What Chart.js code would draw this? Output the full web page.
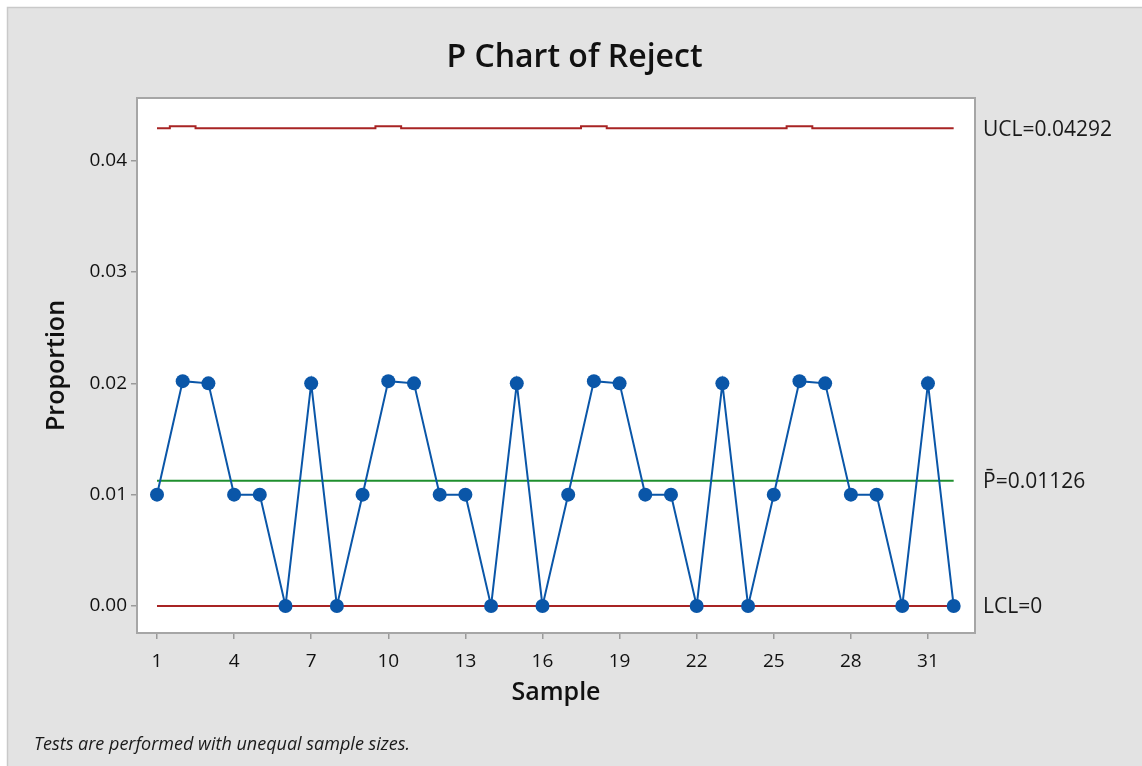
<!DOCTYPE html>
<html>
<head>
<meta charset="utf-8">
<script src="https://cdn.jsdelivr.net/npm/chart.js@4/dist/chart.umd.min.js"></script>
<style>
html,body{margin:0;padding:0;background:#ffffff;overflow:hidden;}
canvas{display:block;}
</style>
</head>
<body>
<canvas id="c" width="1142" height="766"></canvas>
<script>
// ---- data ----
const samples = [1,2,3,4,5,6,7,8,9,10,11,12,13,14,15,16,17,18,19,20,21,22,23,24,25,26,27,28,29,30,31,32];
const proportions = [0.01,0.0202,0.02,0.01,0.01,0,0.02,0,0.01,0.0202,0.02,0.01,0.01,0,0.02,0,0.01,0.0202,0.02,0.01,0.01,0,0.02,0,0.01,0.0202,0.02,0.01,0.01,0,0.02,0];
const uclValues = [0.04292,0.0431,0.04292,0.04292,0.04292,0.04292,0.04292,0.04292,0.04292,0.0431,0.04292,0.04292,0.04292,0.04292,0.04292,0.04292,0.04292,0.0431,0.04292,0.04292,0.04292,0.04292,0.04292,0.04292,0.04292,0.0431,0.04292,0.04292,0.04292,0.04292,0.04292,0.04292];
const centerLine = 0.01126;
const lcl = 0;
const xTicks = [1,4,7,10,13,16,19,22,25,28,31];
const yTicks = [0,0.01,0.02,0.03,0.04];
const titleText = "P Chart of Reject";
const xTitle = "Sample";
const yTitle = "Proportion";
const footerText = "Tests are performed with unequal sample sizes.";
const uclLabel = "UCL=0.04292";
const clLabel = "P\u0304=0.01126";
const lclLabel = "LCL=0";

const FONT = "'Open Sans', 'Noto Sans', sans-serif";
const pts = (ys) => samples.map((s, i) => ({x: s, y: ys[i]}));
const constPts = (v) => [{x: samples[0], y: v}, {x: samples[samples.length - 1], y: v}];

const bgPlugin = {
  id: 'bg',
  beforeDraw(chart) {
    const ctx = chart.ctx, a = chart.chartArea;
    ctx.save();
    ctx.fillStyle = '#ffffff';
    ctx.fillRect(0, 0, chart.width, chart.height);
    ctx.fillStyle = '#e3e3e3';
    ctx.fillRect(7, 7, chart.width - 7, chart.height - 7);
    ctx.strokeStyle = '#c9c9c9';
    ctx.lineWidth = 1.5;
    ctx.beginPath();
    ctx.moveTo(7.5, chart.height); ctx.lineTo(7.5, 7.5); ctx.lineTo(chart.width, 7.5);
    ctx.stroke();
    ctx.fillStyle = '#ffffff';
    ctx.fillRect(a.left, a.top, a.right - a.left, a.bottom - a.top);
    ctx.restore();
  },
  afterDraw(chart) {
    const ctx = chart.ctx, a = chart.chartArea, y = chart.scales.y;
    ctx.save();
    ctx.strokeStyle = '#a6a6a6';
    ctx.lineWidth = 2;
    ctx.strokeRect(a.left, a.top, a.right - a.left, a.bottom - a.top);
    ctx.fillStyle = '#1a1a1a';
    ctx.font = "21px " + FONT;
    ctx.textAlign = 'left';
    ctx.textBaseline = 'middle';
    const lx = a.right + 8;
    ctx.fillText(uclLabel, lx, y.getPixelForValue(uclValues[0]) + 2);
    ctx.fillText(clLabel, lx, y.getPixelForValue(centerLine) + 1);
    ctx.fillText(lclLabel, lx, y.getPixelForValue(lcl) + 1);
    ctx.font = "italic 18px " + FONT;
    ctx.fillText(footerText, 34, 745);
    ctx.restore();
  }
};

new Chart(document.getElementById('c'), {
  type: 'line',
  data: {
    datasets: [
      {
        label: 'Proportion', data: pts(proportions),
        borderColor: '#0a56a8', backgroundColor: '#0a56a8', borderWidth: 2,
        pointRadius: 7, pointHoverRadius: 7, pointBorderWidth: 0, tension: 0
      },
      {
        label: 'UCL', data: pts(uclValues), stepped: 'middle',
        borderColor: '#a82424', borderWidth: 2, pointRadius: 0
      },
      {
        label: 'CL', data: constPts(centerLine),
        borderColor: '#1f8f2e', borderWidth: 2, pointRadius: 0
      },
      {
        label: 'LCL', data: constPts(lcl),
        borderColor: '#a82424', borderWidth: 2, pointRadius: 0
      }
    ]
  },
  options: {
    responsive: false,
    animation: false,
    events: [],
    layout: {padding: {left: 7, top: 7, right: 0, bottom: 0}},
    plugins: {
      legend: {display: false},
      tooltip: {enabled: false},
      title: {
        display: true, text: titleText, color: '#111111',
        font: {family: FONT, size: 32, weight: '600', lineHeight: 1.2},
        padding: {top: 32, bottom: 20.6}
      }
    },
    scales: {
      x: {
        type: 'linear', position: 'bottom', min: 0.222, max: 32.83,
        afterBuildTicks(s) { s.ticks = xTicks.map(v => ({value: v})); },
        afterFit(s) { s.height = 133; },
        grid: {display: true, drawOnChartArea: false, drawTicks: true, tickLength: 6, color: '#9a9a9a', lineWidth: 1.5},
        border: {display: false},
        ticks: {color: '#111111', font: {family: FONT, size: 19, weight: '500'}, padding: 11, maxRotation: 0, autoSkip: false,
                callback: (v) => String(v)},
        title: {display: true, text: xTitle, color: '#111111',
                font: {family: FONT, size: 25, weight: '600', lineHeight: 1.2}, padding: {top: 0, bottom: 58}}
      },
      y: {
        type: 'linear', position: 'left', min: -0.00243, max: 0.04564,
        afterBuildTicks(s) { s.ticks = yTicks.map(v => ({value: v})); },
        afterFit(s) { s.width = 130; },
        grid: {display: true, drawOnChartArea: false, drawTicks: true, tickLength: 6, color: '#9a9a9a', lineWidth: 1.5},
        border: {display: false},
        ticks: {color: '#111111', font: {family: FONT, size: 19, weight: '500'}, padding: 4,
                callback: (v) => Number(v).toFixed(2)},
        title: {display: true, text: yTitle, color: '#111111',
                font: {family: FONT, size: 25, weight: '600', lineHeight: 1.2}, padding: {top: 35, bottom: 0}}
      },
      y2: {
        type: 'linear', position: 'right', min: 0, max: 1,
        afterFit(s) { s.width = 167; },
        grid: {display: false}, border: {display: false}, ticks: {display: false}
      }
    }
  },
  plugins: [bgPlugin]
});
</script>
</body>
</html>
